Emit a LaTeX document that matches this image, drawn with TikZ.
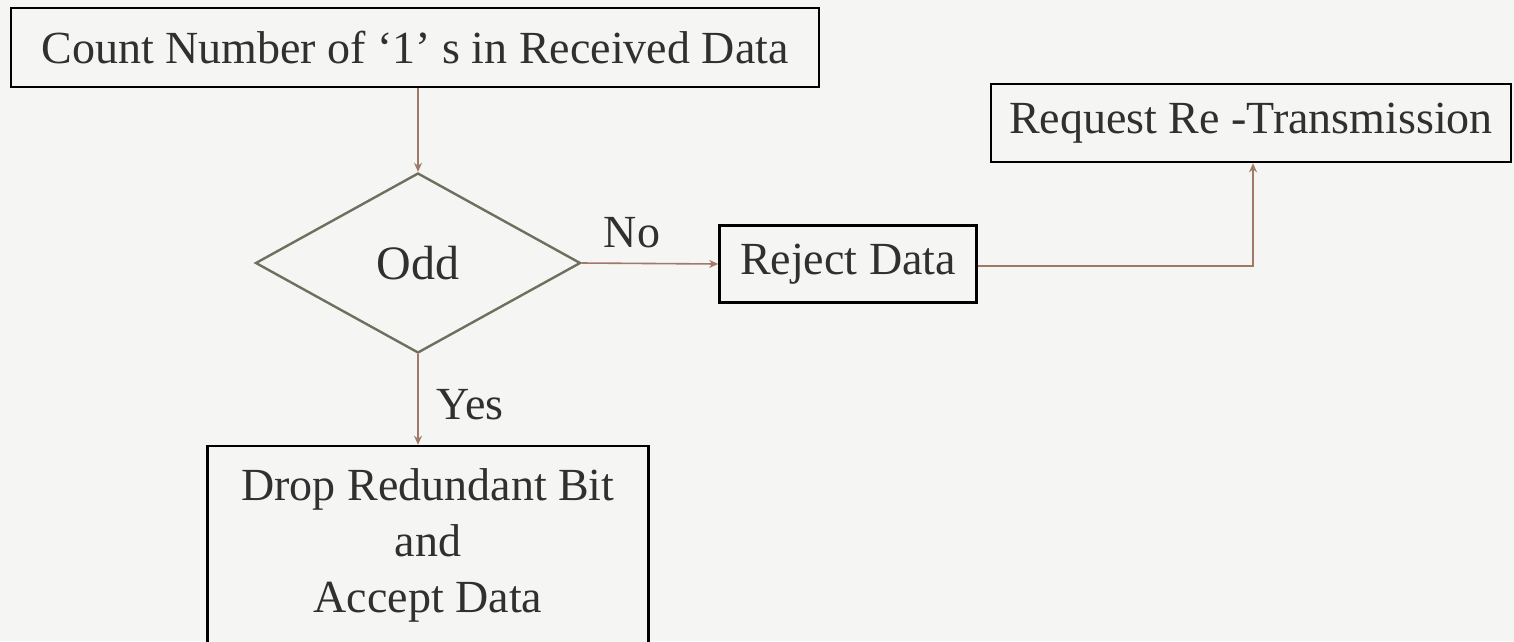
\documentclass[tikz,border=0pt]{standalone}
\usepackage{fontspec}
\setmainfont{Liberation Serif}
\usetikzlibrary{shapes.geometric,arrows.meta}
\definecolor{bg}{HTML}{F5F5F4}
\definecolor{arr}{HTML}{A07A66}
\definecolor{dia}{HTML}{6F6F60}
\definecolor{txt}{HTML}{303030}
\tikzset{
  box/.style={draw=black, line width=2.6pt, fill=bg, text=txt, inner sep=0pt, font=\fontsize{46}{56}\selectfont, align=center},
  decision/.style={draw=dia, line width=2.4pt, shape=diamond, aspect=1.8, inner sep=0pt, minimum width=325pt, minimum height=180pt, text=txt, font=\fontsize{48}{56}\selectfont},
  conn/.style={draw=arr, line width=1.6pt, -{Stealth[length=9pt,width=8pt]}},
  lbl/.style={text=txt, font=\fontsize{46}{56}\selectfont}
}
\begin{document}
\begin{tikzpicture}[x=1pt,y=-1pt]
\useasboundingbox (0,0) rectangle (1514,641);
\clip (0,0) rectangle (1514,641);
\fill[bg] (0,0) rectangle (1514,641);
\node[box, minimum width=808pt, minimum height=79pt] (count) at (415,47.5) {Count Number of ‘1’ s in Received Data};
\node[decision] (odd) at (418,263) {Odd};
\node[box, minimum width=257pt, minimum height=77pt] (reject) at (848,264) {Reject Data};
\node[box, minimum width=520pt, minimum height=78pt] (request) at (1251,123) {Request Re -Transmission};
\node[box, minimum width=441pt, minimum height=198pt] (drop) at (428,545) {Drop Redundant Bit\\and\\Accept Data};
\draw[conn] (count.south -| odd.north) -- (odd.north);
\draw[conn] (odd.east) -- (reject.west);
\draw[conn] (odd.south) -- (odd.south |- drop.north);
\coordinate (bend) at (1253,266);
\draw[conn] (reject.east |- bend) -- (bend) -- (bend |- request.south);
\node[lbl] (no) at (632,233) {No};
\node[lbl] (yes) at (470,405) {Yes};
\end{tikzpicture}
\end{document}
